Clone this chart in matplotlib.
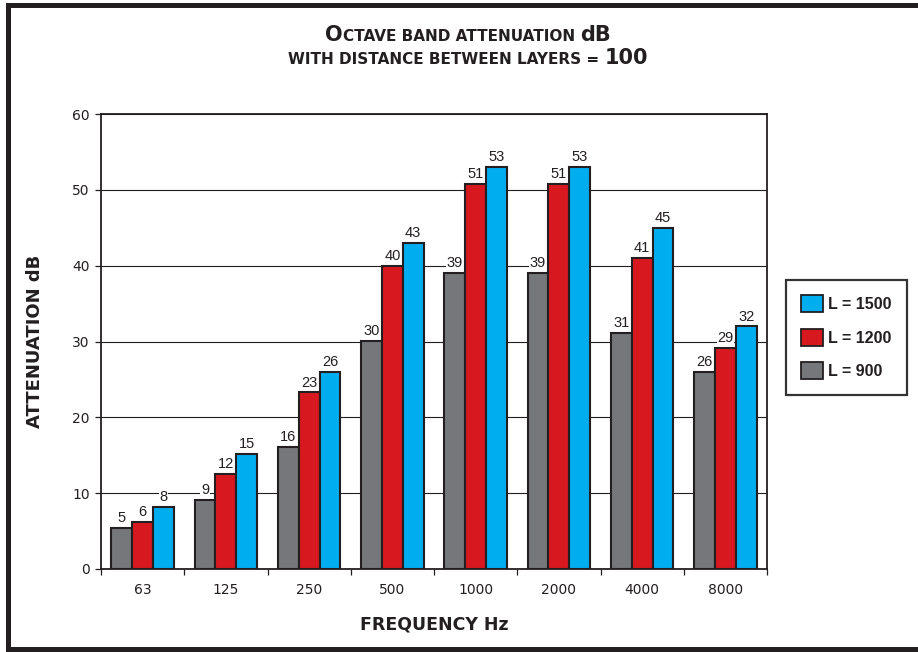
import matplotlib
matplotlib.use("Agg")
import matplotlib.pyplot as plt
import numpy as np
from matplotlib.patches import Patch, Rectangle

categories = ["63", "125", "250", "500", "1000", "2000", "4000", "8000"]
series_names = ["L = 900", "L = 1200", "L = 1500"]
vals_900 = [5.4, 9.1, 16.1, 30.1, 39.0, 39.0, 31.1, 26.0]
vals_1200 = [6.2, 12.5, 23.3, 40.0, 50.8, 50.8, 41.0, 29.2]
vals_1500 = [8.2, 15.2, 26.0, 43.0, 53.0, 53.0, 45.0, 32.0]
labels_900 = ["5", "9", "16", "30", "39", "39", "31", "26"]
labels_1200 = ["6", "12", "23", "40", "51", "51", "41", "29"]
labels_1500 = ["8", "15", "26", "43", "53", "53", "45", "32"]
yticks = [0, 10, 20, 30, 40, 50, 60]

colors = ["#76777b", "#d7191f", "#00aeef"]
ink = "#231f20"
ARIAL = ["Liberation Sans", "DejaVu Sans"]
WIDE = ["DejaVu Sans"]
plt.rcParams["font.family"] = WIDE

W, H = 918, 652
fig = plt.figure(figsize=(W / 100, H / 100), dpi=100)
ax = fig.add_axes([101 / W, 1 - 569 / H, (767 - 101) / W, (569 - 114) / H])

x = np.arange(len(categories))
bw = 0.25
all_vals = [vals_900, vals_1200, vals_1500]
all_labels = [labels_900, labels_1200, labels_1500]
offsets = [-0.25, 0.0, 0.25]
for vals, labs, off, c, name in zip(all_vals, all_labels, offsets, colors, series_names):
    bars = ax.bar(x + off, vals, width=bw, color=c, edgecolor=ink, linewidth=1.5,
                  zorder=3, label=name)
    for b, lab in zip(bars, labs):
        ax.annotate(lab, (b.get_x() + b.get_width() / 2, b.get_height()),
                    xytext=(0, 2), textcoords="offset points", ha="center", va="bottom",
                    fontsize=10.5, family=ARIAL, color=ink, zorder=2,
                    bbox=dict(boxstyle="square,pad=0.05", fc="white", ec="none"))

ax.set_xlim(-0.5, len(categories) - 0.5)
ax.set_ylim(0, 60)
ax.set_yticks(yticks)
ax.set_yticklabels([str(v) for v in yticks])
ax.yaxis.grid(True, color=ink, linewidth=0.8, zorder=0)
ax.set_axisbelow(True)
ax.set_xticks(x)
ax.set_xticklabels(categories)
ax.set_xticks(np.arange(len(categories) + 1) - 0.5, minor=True)
ax.tick_params(axis="x", which="major", length=0, pad=10, labelsize=10, labelcolor=ink)
ax.tick_params(axis="x", which="minor", length=4, width=0.9, direction="out", color=ink)
ax.tick_params(axis="y", length=4, width=0.9, direction="out", color=ink, pad=4,
               labelsize=10, labelcolor=ink)
for s in ax.spines.values():
    s.set_linewidth(1.3)
    s.set_color(ink)

# legend
handles = [Patch(facecolor=colors[i], edgecolor=ink, linewidth=1.3, label=series_names[i])
           for i in [2, 1, 0]]
leg = fig.legend(handles=handles, loc="upper left", bbox_to_anchor=(786 / W, 1 - 280 / H),
                 prop=dict(family=ARIAL, weight="bold", size=11.5), frameon=True, fancybox=False,
                 handlelength=1.35, handleheight=1.25, handletextpad=0.35,
                 labelspacing=1.05, borderpad=0.95, borderaxespad=0)
leg.get_frame().set_edgecolor("black")
leg.get_frame().set_linewidth(1.6)
for t in leg.get_texts():
    t.set_color(ink)

# axis labels
fig.text(35.5 / W, 1 - ((114 + 569) / 2) / H, "ATTENUATION dB", rotation=90, ha="center",
         va="center", fontsize=13, fontweight="bold", color=ink)
fig.text(434 / W, 1 - 625 / H, "FREQUENCY Hz", ha="center", va="center",
         fontsize=12.5, fontweight="bold", color=ink)

# title with small caps
def rich_line(pieces, y_px, cx_px):
    texts = []
    for s, size in pieces:
        t = fig.text(0, 1 - y_px / H, s, fontsize=size, fontweight="bold", color=ink,
                     ha="left", va="baseline")
        texts.append(t)
    fig.canvas.draw()
    r = fig.canvas.get_renderer()
    widths = [t.get_window_extent(r).width for t in texts]
    total = sum(widths)
    xpos = cx_px - total / 2
    for t, w in zip(texts, widths):
        t.set_x(xpos / W)
        xpos += w

rich_line([("O", 15), ("CTAVE BAND ATTENUATION ", 11), ("dB", 15)], 41, 468)
rich_line([("WITH DISTANCE BETWEEN LAYERS = ", 11), ("100", 15)], 64, 468)

# outer frame (left, top, bottom)
for (x0, y0, w, h) in [(6, 3, 5, 649), (6, 3, 912, 5), (6, 647, 912, 5)]:
    fig.patches.append(Rectangle((x0 / W, 1 - (y0 + h) / H), w / W, h / H,
                                 transform=fig.transFigure, facecolor=ink,
                                 edgecolor="none", zorder=10))

fig.savefig("out.png", dpi=100)
